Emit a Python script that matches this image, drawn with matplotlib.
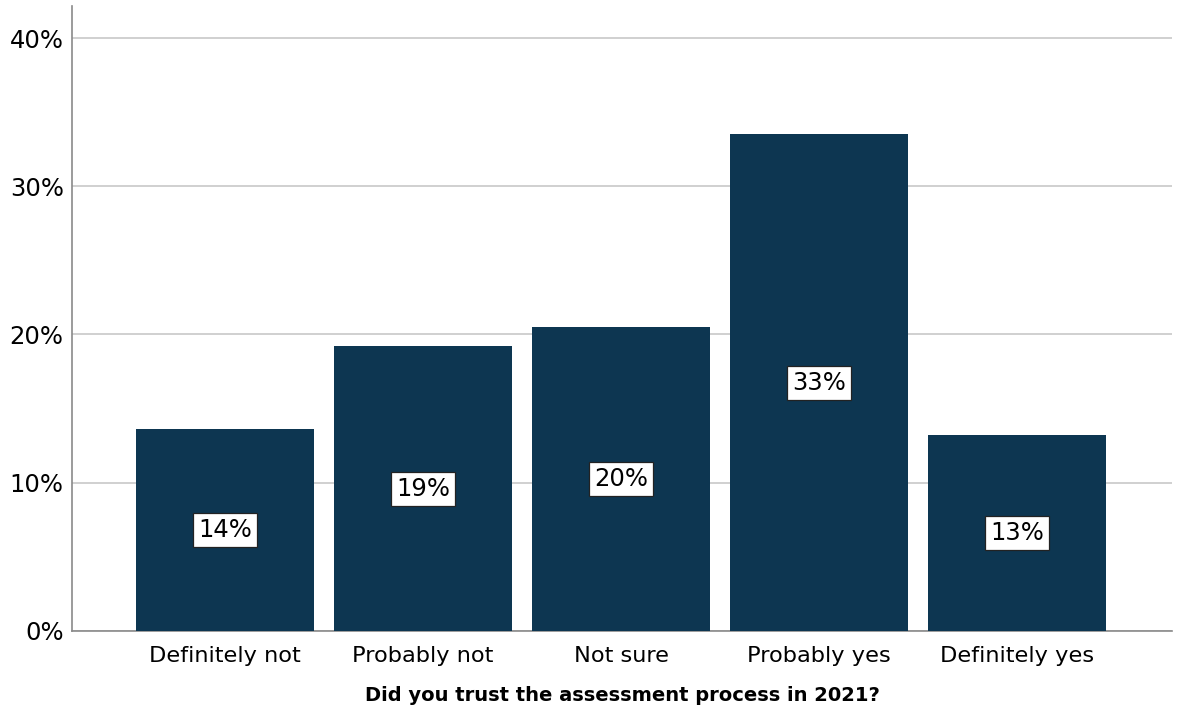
import matplotlib.pyplot as plt
import numpy as np

categories = ['Definitely not', 'Probably not', 'Not sure', 'Probably yes', 'Definitely yes']
percents = [13.6, 19.2, 20.5, 33.5, 13.2]
bar_labels = ['14%', '19%', '20%', '33%', '13%']
yticks = [0, 10, 20, 30, 40]

bar_color = '#0d3651'

fig = plt.figure(figsize=(11.77, 7.12), dpi=100)
ax = fig.add_axes([0.0612, 0.1138, 0.9346, 0.8778])

x = np.arange(len(categories))
ax.bar(x, percents, width=0.9, color=bar_color, zorder=3)

for xi, val, lab in zip(x, percents, bar_labels):
    ax.text(xi, val / 2, lab, ha='center', va='center', fontsize=17.5, zorder=4,
            bbox=dict(boxstyle='square,pad=0.2', facecolor='white',
                      edgecolor='#222222', linewidth=0.9))

ax.set_xlim(-0.773, 4.783)
ax.set_ylim(0, 42.16)
ax.set_xticks(x)
ax.set_xticklabels(categories, fontsize=16.2)
ax.set_yticks(yticks)
ax.set_yticklabels([f'{t}%' for t in yticks], fontsize=17.5)
ax.tick_params(axis='x', length=0, pad=11)
ax.tick_params(axis='y', length=0, pad=6)

ax.yaxis.grid(True, color='#c8c8c8', linewidth=1.2, zorder=0)
ax.set_axisbelow(True)

for side in ['top', 'right']:
    ax.spines[side].set_visible(False)
for side in ['left', 'bottom']:
    ax.spines[side].set_color('#8a8a8a')
    ax.spines[side].set_linewidth(1.2)

ax.set_xlabel('Did you trust the assessment process in 2021?', fontsize=14,
              fontweight='bold', labelpad=14)

fig.savefig('out.png', dpi=100)
